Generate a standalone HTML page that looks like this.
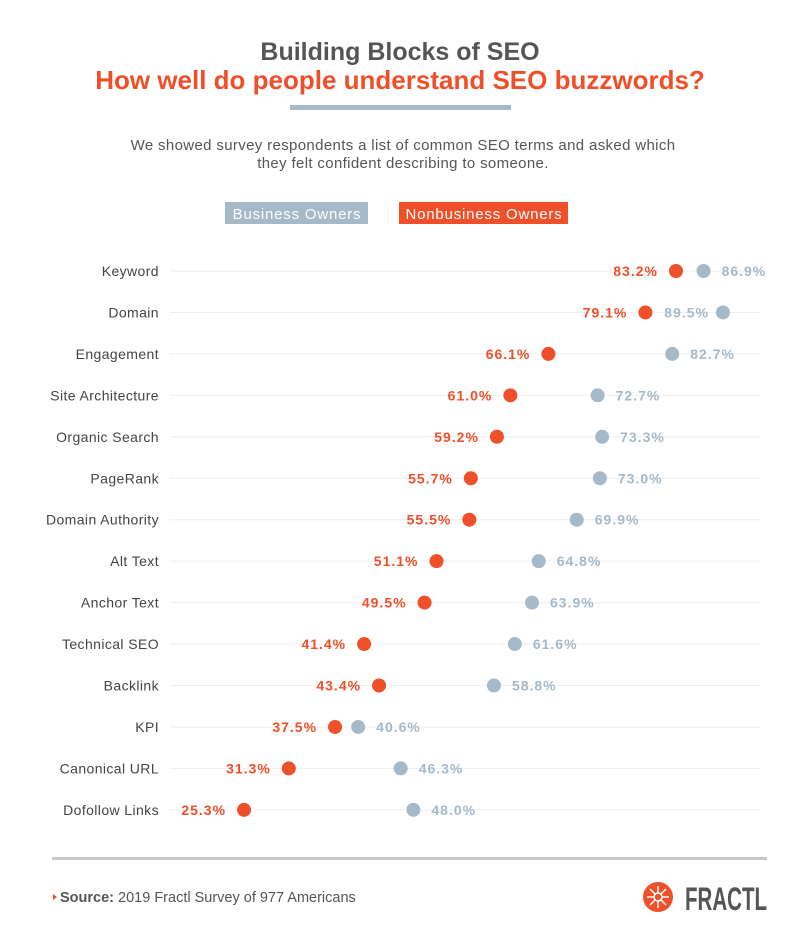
<!DOCTYPE html>
<html><head><meta charset="utf-8"><style>
body{margin:0;background:#fff;}
svg text{font-family:"Liberation Sans",sans-serif;}
</style></head><body>
<svg width="801" height="938" viewBox="0 0 801 938" xmlns="http://www.w3.org/2000/svg">
<rect width="801" height="938" fill="#fff"/>
<text x="400" y="60" text-anchor="middle" font-size="25" font-weight="bold" fill="#555">Building Blocks of SEO</text>
<text x="400" y="89" text-anchor="middle" font-size="26" font-weight="bold" fill="#ef4f29">How well do people understand SEO buzzwords?</text>
<rect x="290" y="105" width="221" height="5" fill="#a6b9c9"/>
<text x="403" y="150" text-anchor="middle" font-size="15" letter-spacing="0.35" fill="#555">We showed survey respondents a list of common SEO terms and asked which</text>
<text x="403" y="168" text-anchor="middle" font-size="15" letter-spacing="0.35" fill="#555">they felt confident describing to someone.</text>
<rect x="225" y="202" width="143" height="22" fill="#a6b9c9"/>
<text x="297" y="219" text-anchor="middle" font-size="15" letter-spacing="0.8" fill="#fff">Business Owners</text>
<rect x="399" y="202" width="169" height="22" fill="#ef4f29"/>
<text x="484" y="219" text-anchor="middle" font-size="15" letter-spacing="0.8" fill="#fff">Nonbusiness Owners</text>
<g id="rows"></g>
<rect x="52" y="857" width="715" height="3" fill="#c8c8c8"/>
<polygon points="53,894 57,897 53,900" fill="#ef4f29"/>
<text x="60" y="902" font-size="14.5" fill="#555"><tspan font-weight="bold">Source:</tspan> 2019 Fractl Survey of 977 Americans</text>
<circle cx="658" cy="897" r="15" fill="#ef4f29"/>
<g stroke="#fff" stroke-width="1.5"><line x1="658" y1="886" x2="658" y2="908"/><line x1="647" y1="897" x2="669" y2="897"/><line x1="650" y1="889" x2="666" y2="905"/><line x1="666" y1="889" x2="650" y2="905"/></g>
<circle cx="658" cy="897" r="4" fill="#ef4f29" stroke="#fff" stroke-width="1.5"/>
<text x="767" y="910" text-anchor="end" font-size="32" font-weight="bold" fill="#555" textLength="82" lengthAdjust="spacingAndGlyphs">FRACTL</text>
</svg>
<script>
const d=[["Keyword",83.2,86.9],["Domain",79.1,89.5],["Engagement",66.1,82.7],["Site Architecture",61.0,72.7],["Organic Search",59.2,73.3],["PageRank",55.7,73.0],["Domain Authority",55.5,69.9],["Alt Text",51.1,64.8],["Anchor Text",49.5,63.9],["Technical SEO",41.4,61.6],["Backlink",43.4,58.8],["KPI",37.5,40.6],["Canonical URL",31.3,46.3],["Dofollow Links",25.3,48.0]];
const X=v=>55.3+7.46*v;let s="";
d.forEach((r,i)=>{const y=271+i*41.45;const o=X(r[1]),b=X(r[2]);
s+=`<line x1="170" y1="${y}" x2="760" y2="${y}" stroke="#eeeeee" stroke-width="1"/>`;
s+=`<text x="159" y="${y+5}" text-anchor="end" font-size="14" letter-spacing="0.4" fill="#444">${r[0]}</text>`;
s+=`<circle cx="${b}" cy="${y}" r="7" fill="#a6b9c9"/><circle cx="${o}" cy="${y}" r="7" fill="#ef4f29"/>`;
s+=`<text x="${o-18}" y="${y+5}" text-anchor="end" font-size="14" letter-spacing="1" font-weight="bold" fill="#ef4f29">${r[1].toFixed(1)}%</text>`;
if(r[0]=="Domain")s+=`<text x="${b-14}" y="${y+5}" text-anchor="end" font-size="14" letter-spacing="1" font-weight="bold" fill="#a6b9c9">${r[2].toFixed(1)}%</text>`;
else s+=`<text x="${b+18}" y="${y+5}" font-size="14" letter-spacing="1" font-weight="bold" fill="#a6b9c9">${r[2].toFixed(1)}%</text>`;});
document.getElementById("rows").innerHTML=s;
</script>
</body></html>
